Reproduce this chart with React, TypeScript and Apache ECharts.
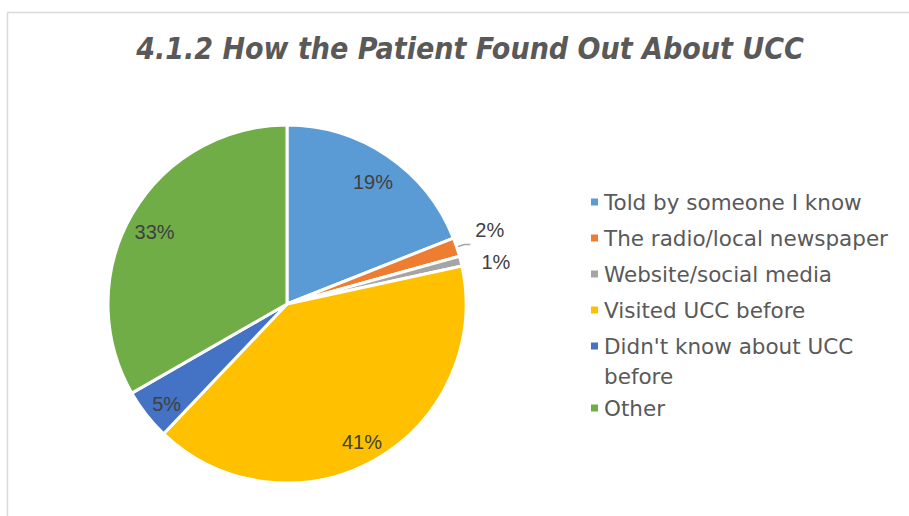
import React, { useEffect, useRef } from "react";
import * as echarts from "echarts";

const TITLE = "4.1.2 How the Patient Found Out About UCC";
const categories = [
  "Told by someone I know",
  "The radio/local newspaper",
  "Website/social media",
  "Visited UCC before",
  "Didn't know about UCC before",
  "Other",
];
const values = [19, 1.7, 0.9, 40.5, 4.6, 33.3];
const colors = ["#5B9BD5", "#ED7D31", "#A5A5A5", "#FFC000", "#4472C4", "#70AD47"];

export default function App() {
  const ref = useRef<HTMLDivElement>(null);
  useEffect(() => {
    if (!ref.current) return;
    const chart = echarts.init(ref.current, null, { renderer: "svg" });
    const fmt = (p: any) => Math.round(p.value) + "%";
    const labelFont = {
      fontFamily: "Liberation Sans",
      fontSize: 20,
      color: "#404040",
    };
    const legendFont = {
      fontFamily: "DejaVu Sans",
      fontSize: 21.5,
      color: "#595959",
      lineHeight: 30,
    };
    const mainData = categories.map((name, i) => ({
      name,
      value: values[i],
      itemStyle: { color: colors[i] },
      label: { show: values[i] >= 1.5 && values[i] < 3 },
      labelLine: { show: values[i] >= 1.5 && values[i] < 3 },
    }));
    const tinyData = categories.map((name, i) => ({
      name,
      value: values[i],
      label: { show: values[i] < 1.5 },
      labelLine: { show: values[i] < 1.5 },
    }));
    const overlayData = categories.map((name, i) => ({
      name,
      value: values[i],
      label: { show: values[i] >= 3 },
    }));
    const legendData = categories.map((name) =>
      name.length > 26
        ? { name, textStyle: { padding: [0, 0, -30, 0] } }
        : { name }
    );
    const pieBase = {
      type: "pie",
      center: [287, 304],
      startAngle: 90,
      clockwise: true,
      avoidLabelOverlap: false,
      emphasis: { disabled: true },
    };
    chart.setOption({
      animation: false,
      title: {
        text: TITLE,
        left: 465,
        top: 28,
        textAlign: "center",
        textStyle: {
          fontFamily: "'DejaVu Sans Condensed', 'DejaVu Sans'",
          fontStyle: "italic",
          fontWeight: "bold",
          fontSize: 30,
          color: "#595959",
        },
      },
      legend: {
        orient: "vertical",
        left: 584,
        top: 182,
        itemWidth: 9,
        itemHeight: 9,
        itemGap: 6,
        icon: "rect",
        data: legendData,
        selectedMode: false,
        formatter: "{r|{name}}",
        textStyle: {
          ...legendFont,
          width: 290,
          overflow: "break",
          rich: { r: { ...legendFont } },
        },
      },
      graphic: [
        {
          type: "line",
          shape: { x1: 7.5, y1: 12.5, x2: 909, y2: 12.5 },
          style: { stroke: "#D9D9D9", lineWidth: 1.5 },
        },
        {
          type: "line",
          shape: { x1: 7.5, y1: 12.5, x2: 7.5, y2: 516 },
          style: { stroke: "#D9D9D9", lineWidth: 1.5 },
        },
      ],
      series: [
        {
          ...pieBase,
          radius: [0, 179],
          itemStyle: { borderColor: "#ffffff", borderWidth: 3 },
          label: { position: "outside", formatter: fmt, ...labelFont },
          labelLine: {
            length: 8,
            length2: 6,
            lineStyle: { color: "#A6A6A6", width: 1.5 },
          },
          labelLayout: { dy: -15 },
          data: mainData,
        },
        {
          ...pieBase,
          radius: [0, 179],
          silent: true,
          legendHoverLink: false,
          itemStyle: { color: "rgba(0,0,0,0)" },
          label: { position: "outside", formatter: fmt, ...labelFont },
          labelLine: {
            length: 10,
            length2: 6,
            lineStyle: { color: "rgba(0,0,0,0)", width: 1 },
          },
          labelLayout: { dy: 3 },
          data: tinyData,
        },
        {
          ...pieBase,
          radius: [121, 179],
          silent: true,
          legendHoverLink: false,
          itemStyle: { color: "rgba(0,0,0,0)" },
          label: { position: "inside", formatter: fmt, ...labelFont },
          labelLine: { show: false },
          labelLayout: { dy: 5 },
          data: overlayData,
        },
      ],
    });
    return () => chart.dispose();
  }, []);
  return (
    <div
      ref={ref}
      style={{ position: "fixed", left: 0, top: 0, width: 909, height: 516, background: "#fff" }}
    />
  );
}
